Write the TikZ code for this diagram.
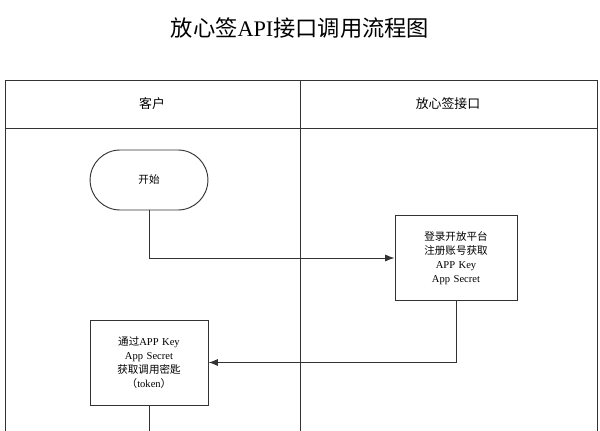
\documentclass[tikz,border=0pt]{standalone}
\usepackage{fontspec}
\setmainfont{Liberation Serif}
\newfontfamily\cjk{Noto Sans CJK SC}
\usetikzlibrary{arrows.meta,shapes.misc}
\tikzset{
  lane/.style={draw=black!80,line width=0.8pt},
  stepbox/.style={draw=black!80,line width=0.8pt,align=center,font=\fontsize{9}{12}\selectfont,inner sep=0pt},
  flow/.style={draw=black!80,line width=0.8pt,-{Latex[length=8pt,width=6pt]}}
}
\begin{document}
\begin{tikzpicture}[x=0.03cm,y=-0.03cm]
            \useasboundingbox (0,0) rectangle (600,431);
            % title
            \node[font=\fontsize{19}{22}\selectfont] (title) at (300,28) {{\cjk 放心签}API{\cjk 接口调用流程图}};

            % lanes
            \draw[lane] (5,431) -- (5,80) -- (597,80) -- (597,431);
            \draw[lane] (5,128) -- (597,128);
            \draw[lane] (300,80) -- (300,431);
            \node[font=\fontsize{11}{13}\selectfont] (client) at (152,104) {\cjk 客户};
            \node[font=\fontsize{11}{13}\selectfont] (api) at (448,104) {\cjk 放心签接口};

            % steps
            \node[stepbox,rounded rectangle,text width=3.51cm,minimum height=1.8cm] (start) at (149,180) {\cjk 开始};
            \node[stepbox,rectangle,text width=3.66cm,minimum height=2.55cm] (register) at (456,258)
                 {{\cjk 登录开放平台}\\{\cjk 注册账号获取}\\APP Key\\App Secret};
            \node[stepbox,rectangle,text width=3.54cm,minimum height=2.55cm] (token) at (149,362.5)
                 {{\cjk 通过}APP Key\\App Secret\\{\cjk 获取调用密匙}\\{\cjk （}token{\cjk ）}};
            \coordinate (down) at (149,431);

            % connectors
            \draw[flow] (start.south) |- (register.west);
            \draw[flow] (register.south) |- (token.east);
            \draw[lane] (token.south) -- (down);
\end{tikzpicture}
\end{document}
